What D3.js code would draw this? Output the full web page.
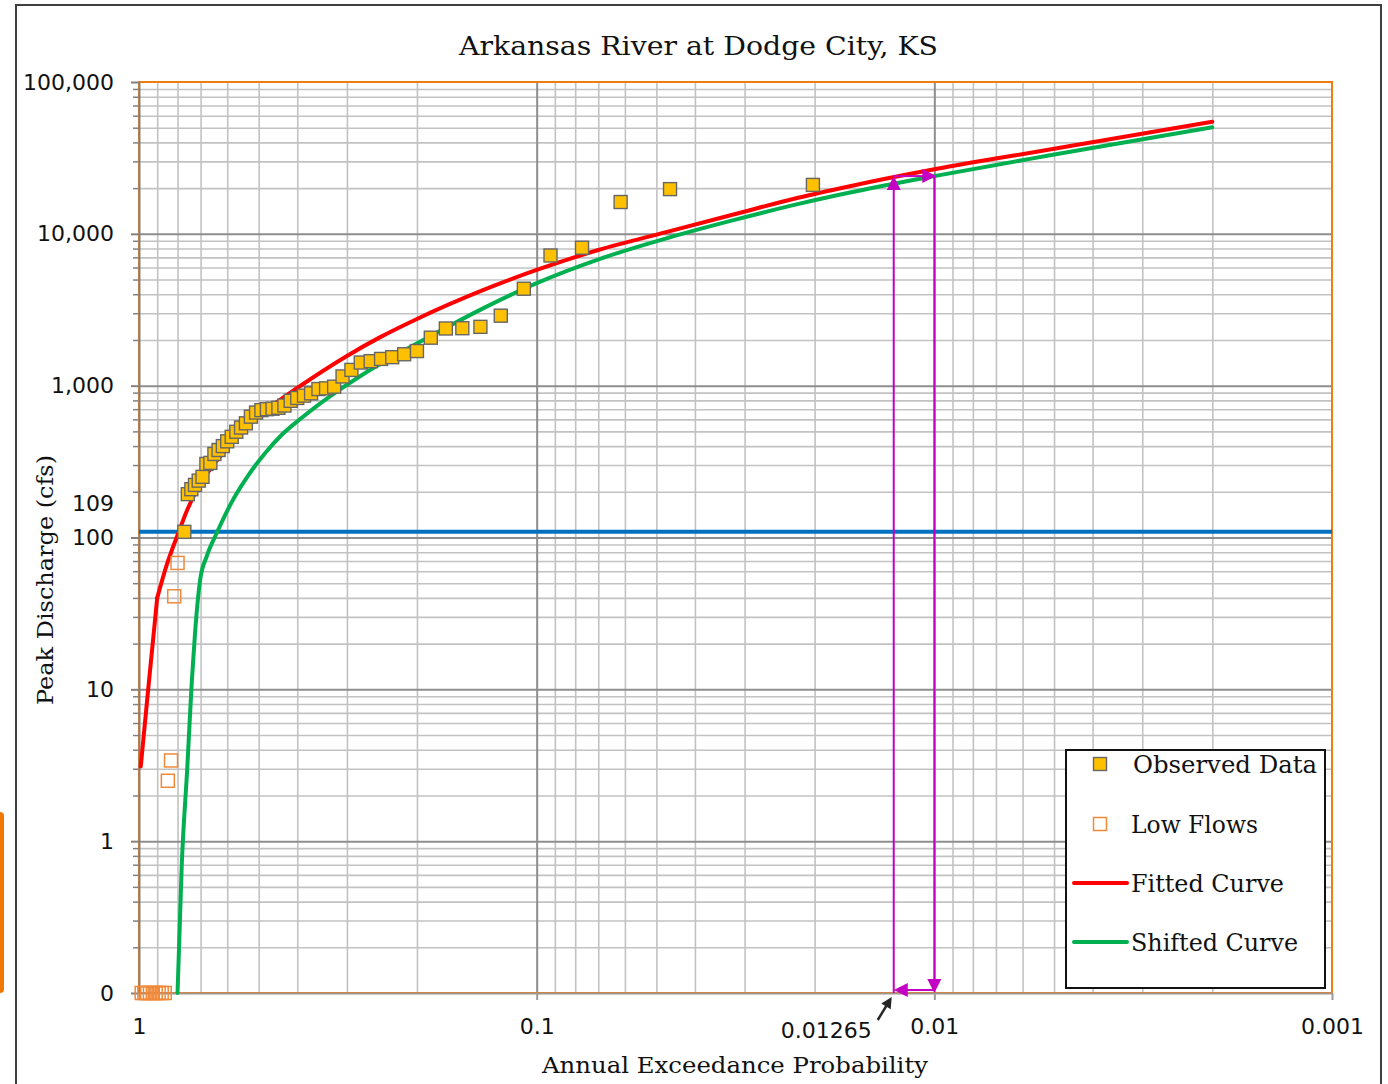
<!DOCTYPE html>
<html>
<head>
<meta charset="utf-8">
<script src="https://cdn.jsdelivr.net/npm/d3@7"></script>
<style>
  body { margin: 0; background: #ffffff; }
  svg { display: block; }
</style>
</head>
<body>
<svg id="chart" width="1388" height="1084"></svg>
<script>
// ---- text ----
const chartTitle = "Arkansas River at Dodge City, KS";
const xTitle = "Annual Exceedance Probability";
const yTitle = "Peak Discharge (cfs)";
const legendLabels = ["Observed Data", "Low Flows", "Fitted Curve", "Shifted Curve"];

// ---- axis ticks ----
const xTickValues = [1, 0.1, 0.01, 0.001];
const xTickLabels = ["1", "0.1", "0.01", "0.001"];
const yTickValues = [0.1, 1, 10, 100, 1000, 10000, 100000];
const yTickLabels = ["0", "1", "10", "100", "1,000", "10,000", "100,000"];

// ---- observed annual peaks (exceedance probability, discharge in cfs) ----
const observedP = [0.0202, 0.0462, 0.0615, 0.0769, 0.0923, 0.1077, 0.1231, 0.1385, 0.1538, 0.1692,
                   0.1846, 0.2, 0.2154, 0.2308, 0.2462, 0.2615, 0.2769, 0.2923, 0.3077, 0.3231,
                   0.3385, 0.3538, 0.3692, 0.3846, 0.4, 0.4154, 0.4308, 0.4462, 0.4615, 0.4769,
                   0.4923, 0.5077, 0.5231, 0.5385, 0.5538, 0.5692, 0.5846, 0.6, 0.6154, 0.6308,
                   0.6462, 0.6615, 0.6769, 0.6923, 0.7077, 0.7231, 0.7385, 0.7538, 0.7692];
const observedQ = [21000, 19700, 16200, 8100, 7200, 4350, 2890, 2440, 2390, 2380,
                   2070, 1690, 1610, 1540, 1500, 1450, 1420, 1270, 1150, 985,
                   960, 950, 890, 860, 830, 795, 740, 715, 705, 700,
                   690, 665, 625, 565, 530, 497, 460, 430, 400, 377,
                   355, 310, 305, 251, 237, 222, 208, 193, 109];

// ---- low flows below the threshold (zeros sit on the axis floor) ----
const lowP = [0.8, 0.8154, 0.8308, 0.8462, 0.8615, 0.8769, 0.8923, 0.9077, 0.9231, 0.9385, 0.9538, 0.9692, 0.9846];
const lowQ = [68, 41, 3.4, 2.5, 0, 0, 0, 0, 0, 0, 0, 0, 0];

// ---- fitted frequency curve ----
const fittedP = [0.99, 0.95, 0.9, 0.85, 0.826, 0.793, 0.762, 0.716, 0.644, 0.585, 0.521, 0.464, 0.4,
                 0.3, 0.248, 0.2, 0.136, 0.1, 0.07, 0.047, 0.032, 0.022, 0.0163, 0.01, 0.005, 0.002];
const fittedQ = [3.1, 9.5, 40, 67, 83, 110, 145, 205, 310, 417, 570, 733, 965,
                 1570, 2080, 2750, 4270, 5780, 7830, 10300, 13400, 17300, 20600, 26600, 36300, 54800];

// ---- shifted frequency curve ----
const shiftedP = [0.8, 0.781, 0.756, 0.737, 0.723, 0.702, 0.676, 0.638, 0.577, 0.531, 0.482, 0.438, 0.391,
                  0.331, 0.273, 0.225, 0.1855, 0.136, 0.1, 0.0693, 0.0471, 0.032, 0.0218, 0.0163, 0.01, 0.00512, 0.002];
const shiftedQ = [0, 0.68, 3.07, 11, 23.4, 52.5, 74.8, 106.6, 182, 257, 359, 473, 610,
                  850, 1190, 1600, 2110, 3240, 4730, 6840, 9350, 12300, 15800, 18700, 24000, 32900, 50300];

// ---- threshold and 1% transfer ----
const thresholdQ = 109;
const designP = 0.01;          // 1% event on the shifted curve
const shiftedDesignQ = 24000;  // shifted-curve flow at 1%
const fittedEquivP = 0.01265;  // probability of that flow on the fitted curve

// ---- layout ----
const plot = { left: 139, right: 1332, top: 82, bottom: 993 };
const plotW = plot.right - plot.left;
const svg = d3.select("#chart");

const x = d3.scaleLog().domain([1, 0.001]).range([plot.left, plot.right]);
const y = d3.scaleLog().domain([0.1, 100000]).range([plot.bottom, plot.top]);
const yFloor = 0.1;
const yv = q => y(Math.max(q, yFloor));

const sansFont = "'DejaVu Sans', Verdana, sans-serif";
const serifFont = "'DejaVu Serif', serif";

// outer chart frame and side tab
svg.append("rect").attr("x", -8).attr("y", 812).attr("width", 12).attr("height", 181)
  .attr("rx", 4).attr("fill", "#f07800");
svg.append("rect").attr("x", 16).attr("y", 5).attr("width", 1365).attr("height", 1110)
  .attr("fill", "#ffffff").attr("stroke", "#3f3f3f").attr("stroke-width", 2);

// minor / major grid values
const xMinor = [1, 0.1, 0.01].flatMap(d => d3.range(2, 10).map(k => +(k * d / 10).toPrecision(3)));
const yMinor = [0.1, 1, 10, 100, 1000, 10000].flatMap(d => d3.range(2, 10).map(k => +(k * d).toPrecision(3)));
const xMajorGrid = [0.1, 0.01];
const yMajorGrid = [1, 10, 100, 1000, 10000];

function gridY(values, color, width) {
  const g = svg.append("g").attr("transform", `translate(${plot.left},0)`)
    .call(d3.axisLeft(y).tickValues(values).tickSize(-plotW).tickSizeOuter(0).tickFormat(""));
  g.select(".domain").remove();
  g.selectAll("line").attr("stroke", color).attr("stroke-width", width);
}
function gridX(values, color, width) {
  const g = svg.append("g").attr("transform", `translate(0,${plot.bottom})`)
    .call(d3.axisBottom(x).tickValues(values).tickSize(-(plot.bottom - plot.top)).tickSizeOuter(0).tickFormat(""));
  g.select(".domain").remove();
  g.selectAll("line").attr("stroke", color).attr("stroke-width", width);
}
gridY(yMinor, "#c2c2c2", 1.6);
gridX(xMinor, "#c2c2c2", 1.6);
gridY(yMajorGrid, "#8e8e8e", 2);
gridX(xMajorGrid, "#8e8e8e", 2);

// plot area border
svg.append("rect").attr("x", plot.left).attr("y", plot.top).attr("width", plotW)
  .attr("height", plot.bottom - plot.top).attr("fill", "none")
  .attr("stroke", "#f07d12").attr("stroke-width", 2);

// y axis: minor tick marks, then labelled decades
const axisColor = "#86807b";
const yMinorAxis = svg.append("g").attr("transform", `translate(${plot.left},0)`)
  .call(d3.axisLeft(y).tickValues(yMinor).tickSize(6).tickSizeOuter(0).tickFormat(""));
yMinorAxis.select(".domain").remove();
yMinorAxis.selectAll("line").attr("stroke", axisColor).attr("stroke-width", 1.5);

const yAxis = svg.append("g").attr("transform", `translate(${plot.left},0)`)
  .call(d3.axisLeft(y).tickValues(yTickValues).tickFormat((d, i) => yTickLabels[i])
    .tickSize(8).tickSizeOuter(0).tickPadding(17));
yAxis.select(".domain").attr("stroke", axisColor).attr("stroke-width", 2);
yAxis.selectAll("line").attr("stroke", axisColor).attr("stroke-width", 2);
yAxis.selectAll("text").attr("font-family", sansFont).attr("font-size", 22).attr("fill", "#111");

// x axis
const xAxis = svg.append("g").attr("transform", `translate(0,${plot.bottom})`)
  .call(d3.axisBottom(x).tickValues(xTickValues).tickFormat((d, i) => xTickLabels[i])
    .tickSize(7).tickSizeOuter(0).tickPadding(18));
xAxis.select(".domain").attr("stroke", "#a39488").attr("stroke-width", 2);
xAxis.selectAll("line").attr("stroke", "#9a9a9a").attr("stroke-width", 2);
xAxis.selectAll("text").attr("font-family", sansFont).attr("font-size", 22).attr("fill", "#111");

// threshold line and its label
svg.append("line").attr("x1", plot.left).attr("x2", plot.right)
  .attr("y1", y(thresholdQ)).attr("y2", y(thresholdQ))
  .attr("stroke", "#0070c0").attr("stroke-width", 4);
svg.append("text").attr("x", plot.left - 25).attr("y", y(thresholdQ) - 21)
  .attr("text-anchor", "end").attr("font-family", sansFont).attr("font-size", 22).attr("fill", "#111")
  .text(String(thresholdQ));

// frequency curves: the fitted curve runs straight through its lowest ordinates,
// then follows a smooth spline
const smooth = d3.line().x(d => x(d.p)).y(d => yv(d.q)).curve(d3.curveMonotoneX);
const straight = d3.line().x(d => x(d.p)).y(d => yv(d.q));
const fitted = fittedP.map((p, i) => ({ p, q: fittedQ[i] }));
const shifted = shiftedP.map((p, i) => ({ p, q: shiftedQ[i] }));
const curveStyle = (sel, color) => sel.attr("fill", "none").attr("stroke", color).attr("stroke-width", 4)
  .attr("stroke-linecap", "round").attr("stroke-linejoin", "round");
svg.append("path").datum(fitted.slice(0, 3)).attr("d", straight).call(curveStyle, "#ff0000");
svg.append("path").datum(fitted.slice(2)).attr("d", smooth).call(curveStyle, "#ff0000");
svg.append("path").datum(shifted).attr("d", smooth).call(curveStyle, "#00b050");

// markers
const mk = 13;
const low = lowP.map((p, i) => ({ p, q: lowQ[i] }));
svg.append("g").selectAll("rect").data(low).join("rect")
  .attr("x", d => x(d.p) - mk / 2).attr("y", d => yv(d.q) - mk / 2)
  .attr("width", mk).attr("height", mk)
  .attr("fill", "none").attr("stroke", "#f08a3a").attr("stroke-width", 1.5);
const observed = observedP.map((p, i) => ({ p, q: observedQ[i] }));
svg.append("g").selectAll("rect").data(observed.slice().reverse()).join("rect")
  .attr("x", d => x(d.p) - mk / 2).attr("y", d => yv(d.q) - mk / 2)
  .attr("width", mk).attr("height", mk)
  .attr("fill", "#ffc000").attr("stroke", "#666666").attr("stroke-width", 1.4);

// 1% transfer arrows between the curves
const mag = "#c400c4";
const xL = x(fittedEquivP), xR = x(designP), yT = y(shiftedDesignQ);
const yB = plot.bottom, yBArrow = plot.bottom - 3;
const head = (tx, ty, dir, len = 14, hw = 7) => {
  const pts = {
    up:    [[tx, ty], [tx - hw, ty + len], [tx + hw, ty + len]],
    down:  [[tx, ty], [tx - hw, ty - len], [tx + hw, ty - len]],
    right: [[tx, ty], [tx - len, ty - hw], [tx - len, ty + hw]],
    left:  [[tx, ty], [tx + len, ty - hw], [tx + len, ty + hw]]
  }[dir];
  return pts.map(p => p.join(",")).join(" ");
};
const ag = svg.append("g");
ag.append("line").attr("x1", xL).attr("x2", xL).attr("y1", yB).attr("y2", yT + 12)
  .attr("stroke", mag).attr("stroke-width", 2);
ag.append("polygon").attr("points", head(xL, yT, "up")).attr("fill", mag);
ag.append("line").attr("x1", xL).attr("x2", xR - 10).attr("y1", yT).attr("y2", yT)
  .attr("stroke", mag).attr("stroke-width", 2);
ag.append("polygon").attr("points", head(xR + 2, yT, "right")).attr("fill", mag);
ag.append("line").attr("x1", xR).attr("x2", xR).attr("y1", yT).attr("y2", yB - 12)
  .attr("stroke", mag).attr("stroke-width", 2);
ag.append("polygon").attr("points", head(xR, yB, "down")).attr("fill", mag);
ag.append("line").attr("x1", xR).attr("x2", xL + 10).attr("y1", yBArrow).attr("y2", yBArrow)
  .attr("stroke", mag).attr("stroke-width", 2);
ag.append("polygon").attr("points", head(xL, yBArrow, "left")).attr("fill", mag);

// label and pointer for the equivalent probability
svg.append("text").attr("x", xL - 22).attr("y", 1038).attr("text-anchor", "end")
  .attr("font-family", sansFont).attr("font-size", 22).attr("fill", "#111")
  .text(String(fittedEquivP));
const bx0 = xL - 16, by0 = 1020, bx1 = xL - 2, by1 = 997;
const ang = Math.atan2(by1 - by0, bx1 - bx0);
svg.append("line").attr("x1", bx0).attr("y1", by0)
  .attr("x2", bx1 - 8 * Math.cos(ang)).attr("y2", by1 - 8 * Math.sin(ang))
  .attr("stroke", "#262626").attr("stroke-width", 2.5);
const hl = 11, hw2 = 5.5;
const bp = [
  [bx1, by1],
  [bx1 - hl * Math.cos(ang) + hw2 * Math.sin(ang), by1 - hl * Math.sin(ang) - hw2 * Math.cos(ang)],
  [bx1 - hl * Math.cos(ang) - hw2 * Math.sin(ang), by1 - hl * Math.sin(ang) + hw2 * Math.cos(ang)]
];
svg.append("polygon").attr("points", bp.map(p => p.join(",")).join(" ")).attr("fill", "#262626");

// titles
svg.append("text").attr("x", 698.5).attr("y", 55).attr("text-anchor", "middle")
  .attr("font-family", serifFont).attr("font-size", 26).attr("fill", "#111")
  .attr("textLength", 479).attr("lengthAdjust", "spacingAndGlyphs").text(chartTitle);
svg.append("text").attr("x", 735).attr("y", 1073).attr("text-anchor", "middle")
  .attr("font-family", serifFont).attr("font-size", 23).attr("fill", "#111")
  .attr("textLength", 386).attr("lengthAdjust", "spacingAndGlyphs").text(xTitle);
svg.append("text").attr("transform", "translate(53,580) rotate(-90)").attr("text-anchor", "middle")
  .attr("font-family", serifFont).attr("font-size", 23).attr("fill", "#111")
  .attr("textLength", 250).attr("lengthAdjust", "spacingAndGlyphs").text(yTitle);

// legend
const lg = svg.append("g").attr("transform", "translate(1066,750)");
lg.append("rect").attr("width", 259).attr("height", 238)
  .attr("fill", "#ffffff").attr("stroke", "#111111").attr("stroke-width", 2);
const rowY = [14, 74, 133, 192];
const textW = [184, 127, 153, 167];
const textX = [67, 65, 65, 65];
lg.append("rect").attr("x", 34 - mk / 2).attr("y", rowY[0] - mk / 2).attr("width", mk).attr("height", mk)
  .attr("fill", "#ffc000").attr("stroke", "#666666").attr("stroke-width", 1.4);
lg.append("rect").attr("x", 34 - mk / 2).attr("y", rowY[1] - mk / 2).attr("width", mk).attr("height", mk)
  .attr("fill", "none").attr("stroke", "#f08a3a").attr("stroke-width", 1.5);
lg.append("line").attr("x1", 8).attr("x2", 61).attr("y1", rowY[2]).attr("y2", rowY[2])
  .attr("stroke", "#ff0000").attr("stroke-width", 4).attr("stroke-linecap", "round");
lg.append("line").attr("x1", 8).attr("x2", 61).attr("y1", rowY[3]).attr("y2", rowY[3])
  .attr("stroke", "#00b050").attr("stroke-width", 4).attr("stroke-linecap", "round");
legendLabels.forEach((t, i) => {
  lg.append("text").attr("x", textX[i]).attr("y", rowY[i] + 9)
    .attr("font-family", serifFont).attr("font-size", 24).attr("fill", "#111")
    .attr("textLength", textW[i]).attr("lengthAdjust", "spacingAndGlyphs").text(t);
});
</script>
</body>
</html>
